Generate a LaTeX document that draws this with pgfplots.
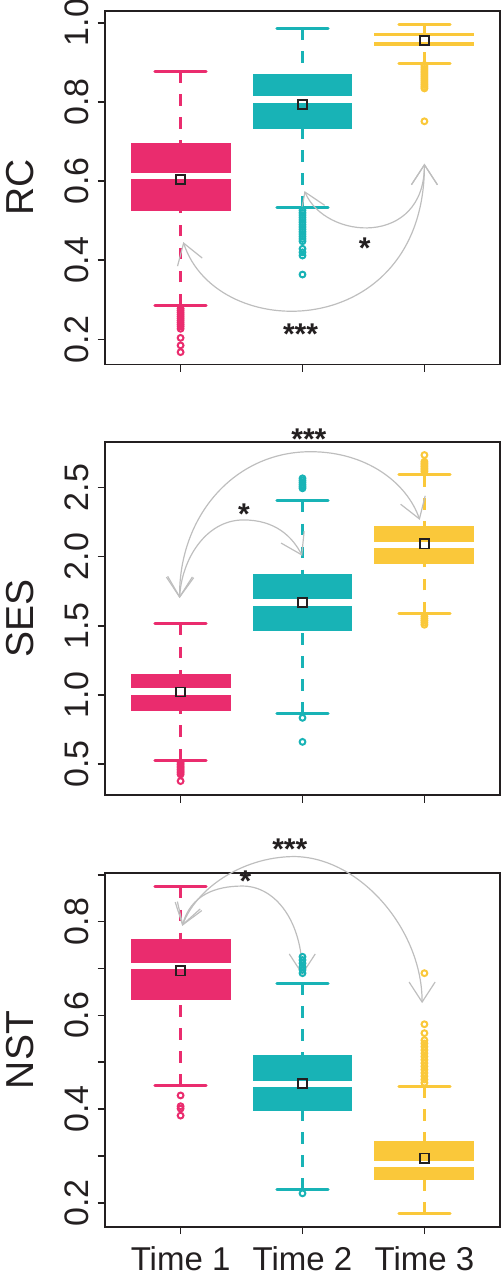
\documentclass[border=0pt]{standalone}
\usepackage{fontspec}
\setmainfont{Liberation Sans}
\usepackage{pgfplots}
\pgfplotsset{compat=1.18}
\usepgfplotslibrary{statistics}
\usetikzlibrary{arrows.meta}

\definecolor{tpink}{RGB}{234,44,110}
\definecolor{tteal}{RGB}{24,179,182}
\definecolor{tyellow}{RGB}{250,200,58}
\definecolor{frame}{RGB}{35,31,32}
\definecolor{arcgray}{RGB}{190,190,190}

\tikzset{
  arcarrow/.style={draw=arcgray, line width=0.6pt,
    {Straight Barb[length=10pt,width=13pt]}-{Straight Barb[length=10pt,width=13pt]}},
  stars/.style={font=\fontsize{15}{15}\selectfont\bfseries, text=frame, yshift=-3.3pt},
}

\pgfplotsset{
  panel/.style={
    scale only axis, width=197.5pt, height=176.7pt,
    xmin=0.38, xmax=3.62, xtick={1,2,3},
    xtick pos=left, ytick pos=left,
    tick align=outside, major tick length=3.75pt,
    axis line style={draw=frame, line width=0.9pt},
    every tick/.style={draw=frame, line width=0.8pt},
    yticklabel style={font=\fontsize{17}{17}\selectfont, text=frame, xshift=-10.45pt, rotate=90, anchor=center},
    xticklabel style={font=\fontsize{16.5}{16.5}\selectfont, text=frame, anchor=center, yshift=-12.25pt},
    ylabel style={font=\fontsize{19.5}{20}\selectfont, text=frame, at={(axis description cs:-0.2152,0.5)}, anchor=center},
    boxplot/draw direction=y,
    clip=false,
  },
  tbox/.style 2 args={
    color=#1, solid,
    boxplot prepared={#2, box extend=0.82, whisker extend=0.42},
    boxplot/every box/.style={fill=#1, draw=none},
    boxplot/every median/.style={draw=white, line width=3.2pt},
    boxplot/draw/lower whisker/.code={
      \draw[draw=#1, line width=1.5pt, dash pattern=on 5.8pt off 5.7pt]
        (boxplot box cs:\pgfplotsboxplotvalue{lower whisker},0.5) -- (boxplot box cs:\pgfplotsboxplotvalue{lower quartile},0.5);
      \draw[draw=#1, line width=1.5pt, line cap=round]
        (boxplot whisker cs:\pgfplotsboxplotvalue{lower whisker},0) -- (boxplot whisker cs:\pgfplotsboxplotvalue{lower whisker},1);
    },
    boxplot/draw/upper whisker/.code={
      \draw[draw=#1, line width=1.5pt, dash pattern=on 5.8pt off 5.7pt]
        (boxplot box cs:\pgfplotsboxplotvalue{upper whisker},0.5) -- (boxplot box cs:\pgfplotsboxplotvalue{upper quartile},0.5);
      \draw[draw=#1, line width=1.5pt, line cap=round]
        (boxplot whisker cs:\pgfplotsboxplotvalue{upper whisker},0) -- (boxplot whisker cs:\pgfplotsboxplotvalue{upper whisker},1);
    },
  },
  outl/.style={only marks, mark=o, mark size=1.45pt, color=#1, mark options={line width=1pt, solid}},
  means/.style={only marks, mark=square, mark size=2.3pt, color=frame, mark options={line width=0.85pt, solid}},
}

\begin{document}
\begin{tikzpicture}
\useasboundingbox (0pt,0pt) rectangle (250.5pt,-644pt);

% ---- RC ----
\begin{axis}[panel, at={(52.5pt,-5.5pt)}, anchor=north west,
  ymin=0.137, ymax=1.0296,
  ytick={0.2,0.4,0.6,0.8,1.0}, yticklabels={0.2,0.4,0.6,0.8,1.0},
  xticklabels={,,}, ylabel={RC}]
\addplot[tbox={tpink}{draw position=1, lower whisker=0.286, lower quartile=0.524, median=0.613, upper quartile=0.695, upper whisker=0.878}] coordinates {};
\addplot[tbox={tteal}{draw position=2, lower whisker=0.533, lower quartile=0.732, median=0.806, upper quartile=0.870, upper whisker=0.986}] coordinates {};
\addplot[tbox={tyellow}{draw position=3, lower whisker=0.897, lower quartile=0.940, median=0.959, upper quartile=0.975, upper whisker=0.996}] coordinates {};
\addplot[outl=tpink] coordinates {(1,0.278) (1,0.273) (1,0.268) (1,0.263) (1,0.258) (1,0.253) (1,0.248) (1,0.243) (1,0.238) (1,0.233) (1,0.227) (1,0.204) (1,0.185) (1,0.168)};
\addplot[outl=tteal] coordinates {(2,0.526) (2,0.520) (2,0.514) (2,0.508) (2,0.502) (2,0.496) (2,0.490) (2,0.484) (2,0.478) (2,0.472) (2,0.466) (2,0.460) (2,0.454) (2,0.448) (2,0.429) (2,0.420) (2,0.412) (2,0.364)};
\addplot[outl=tyellow] coordinates {(3,0.893) (3,0.888) (3,0.883) (3,0.878) (3,0.873) (3,0.868) (3,0.863) (3,0.858) (3,0.853) (3,0.848) (3,0.843) (3,0.838) (3,0.834) (3,0.751)};
\addplot[means] coordinates {(1,0.604) (2,0.793) (3,0.955)};
\draw[arcarrow] (axis cs:1.022,0.446) .. controls (axis cs:1.301,0.185) and (axis cs:3.0,0.193) .. (axis cs:3.0,0.644);
\draw[arcarrow] (axis cs:2.016,0.575) .. controls (axis cs:2.189,0.450) and (axis cs:3.0,0.433) .. (axis cs:3.0,0.644);
\node[stars] at (axis cs:1.984,0.231) {***};
\node[stars] at (axis cs:2.511,0.446) {*};
\end{axis}

% ---- SES ----
\begin{axis}[panel, at={(52.5pt,-220.85pt)}, anchor=north west,
  ymin=0.2735, ymax=2.8325,
  ytick={0.5,1.0,1.5,2.0,2.5}, yticklabels={0.5,1.0,1.5,2.0,2.5},
  xticklabels={,,}, ylabel={SES}]
\addplot[tbox={tpink}{draw position=1, lower whisker=0.527, lower quartile=0.886, median=1.025, upper quartile=1.153, upper whisker=1.514}] coordinates {};
\addplot[tbox={tteal}{draw position=2, lower whisker=0.861, lower quartile=1.459, median=1.669, upper quartile=1.878, upper whisker=2.406}] coordinates {};
\addplot[tbox={tyellow}{draw position=3, lower whisker=1.589, lower quartile=1.948, median=2.086, upper quartile=2.220, upper whisker=2.592}] coordinates {};
\addplot[outl=tpink] coordinates {(1,0.507) (1,0.495) (1,0.483) (1,0.471) (1,0.459) (1,0.447) (1,0.435) (1,0.423) (1,0.375)};
\addplot[outl=tteal] coordinates {(2,2.567) (2,2.552) (2,2.537) (2,2.522) (2,2.508) (2,2.495) (2,0.833) (2,0.659)};
\addplot[outl=tyellow] coordinates {(3,2.736) (3,2.688) (3,2.676) (3,2.664) (3,2.652) (3,2.640) (3,2.628) (3,2.616) (3,1.567) (3,1.552) (3,1.537) (3,1.522) (3,1.507)};
\addplot[means] coordinates {(1,1.020) (2,1.669) (3,2.093)};
\draw[arcarrow] (axis cs:0.992,1.700) .. controls (axis cs:0.986,2.290) and (axis cs:1.437,2.760) .. (axis cs:2.066,2.760)
  .. controls (axis cs:2.530,2.760) and (axis cs:2.858,2.532) .. (axis cs:2.962,2.266);
\draw[arcarrow] (axis cs:0.992,1.700) .. controls (axis cs:1.008,1.977) and (axis cs:1.205,2.266) .. (axis cs:1.516,2.266)
  .. controls (axis cs:1.779,2.266) and (axis cs:1.918,2.143) .. (axis cs:1.998,2.006);
\node[stars] at (axis cs:2.052,2.897) {***};
\node[stars] at (axis cs:1.519,2.355) {*};
\end{axis}

% ---- NST ----
\begin{axis}[panel, at={(52.5pt,-436.65pt)}, anchor=north west,
  ymin=0.1488, ymax=0.9032,
  ytick={0.2,0.3,0.4,0.5,0.6,0.7,0.8,0.9}, yticklabels={0.2,,0.4,,0.6,,0.8,},
  xticklabels={Time 1,Time 2,Time 3}, ylabel={NST}]
\addplot[tbox={tpink}{draw position=1, lower whisker=0.450, lower quartile=0.632, median=0.705, upper quartile=0.764, upper whisker=0.875}] coordinates {};
\addplot[tbox={tteal}{draw position=2, lower whisker=0.228, lower quartile=0.396, median=0.454, upper quartile=0.516, upper whisker=0.668}] coordinates {};
\addplot[tbox={tyellow}{draw position=3, lower whisker=0.176, lower quartile=0.248, median=0.283, upper quartile=0.332, upper whisker=0.449}] coordinates {};
\addplot[outl=tpink] coordinates {(1,0.429) (1,0.406) (1,0.401) (1,0.386)};
\addplot[outl=tteal] coordinates {(2,0.725) (2,0.718) (2,0.711) (2,0.704) (2,0.697) (2,0.690) (2,0.220)};
\addplot[outl=tyellow] coordinates {(3,0.690) (3,0.581) (3,0.562) (3,0.547) (3,0.540) (3,0.533) (3,0.526) (3,0.519) (3,0.512) (3,0.505) (3,0.498) (3,0.491) (3,0.484) (3,0.477) (3,0.470) (3,0.463) (3,0.456)};
\addplot[means] coordinates {(1,0.695) (2,0.455) (3,0.295)};
\draw[arcarrow] (axis cs:1.014,0.791) .. controls (axis cs:1.123,0.868) and (axis cs:1.492,0.938) .. (axis cs:1.929,0.939)
  .. controls (axis cs:2.475,0.938) and (axis cs:2.981,0.782) .. (axis cs:2.981,0.626);
\draw[arcarrow] (axis cs:1.014,0.791) .. controls (axis cs:1.082,0.857) and (axis cs:1.287,0.876) .. (axis cs:1.508,0.876)
  .. controls (axis cs:1.779,0.876) and (axis cs:1.998,0.800) .. (axis cs:1.998,0.686);
\node[stars] at (axis cs:1.896,0.969) {***};
\node[stars] at (axis cs:1.533,0.900) {*};
\end{axis}
\end{tikzpicture}
\end{document}
